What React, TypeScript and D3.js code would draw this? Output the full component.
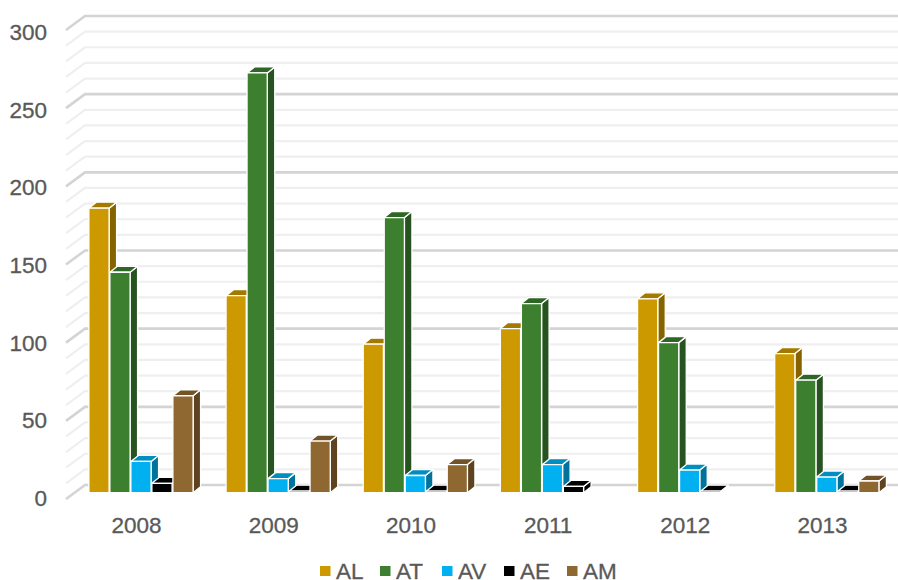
import React from "react";
import * as d3 from "d3";

const years = ["2008", "2009", "2010", "2011", "2012", "2013"];
const seriesNames = ["AL", "AT", "AV", "AE", "AM"];
const alValues = [182, 126, 95, 105, 124, 89];
const atValues = [141, 268.5, 176, 121, 96, 72];
const avValues = [20, 9, 11, 18, 14.5, 10];
const aeValues = [6, 1, 1, 4, 1, 1];
const amValues = [62, 33, 18, 0, 0, 7.5];
const seriesValues = [alValues, atValues, avValues, aeValues, amValues];
const frontColors = ["#cc9900", "#3b7f2f", "#00b0f0", "#000000", "#8f6731"];
const topColors = ["#a37a00", "#2f6626", "#008dc0", "#000000", "#725227"];
const sideColors = ["#856400", "#265320", "#00739c", "#000000", "#5d4320"];
const yTicks = [0, 50, 100, 150, 200, 250, 300];
const minorTicks = d3.range(0, 301, 10);
const legendX = [320, 380, 442, 504, 567];

const WIDTH = 898;
const HEIGHT = 580;
const FONT = "'Liberation Sans', Arial, sans-serif";
const TEXT = "#595959";

// Wall plane sits behind the bars, the front edge of the floor in front of them.
const wallY = d3.scaleLinear().domain([0, 300]).range([485, 16]);
const barY = d3.scaleLinear().domain([0, 300]).range([492.7, 23.7]);
const labelY = d3.scaleLinear().domain([0, 300]).range([506, 40]);
const groupX = d3.scaleBand<string>().domain(years).range([68, 891]);
const barWidth = 20.2;
const barStep = 21;
const depthX = 7.5;
const depthY = -6;
const barShift = 4.8;
const textProps = {
  fontFamily: FONT,
  fontSize: 22.5,
  fill: TEXT,
  stroke: TEXT,
  strokeWidth: 0.3,
};

function Bar({ x, value, s }: { x: number; value: number; s: number }) {
  const y0 = barY(0);
  const y1 = barY(value);
  const x1 = x + barWidth;
  const front = `M${x},${y1}H${x1}V${y0}H${x}Z`;
  const top = `M${x},${y1}L${x + depthX},${y1 + depthY}H${x1 + depthX}L${x1},${y1}Z`;
  const side = `M${x1},${y1}L${x1 + depthX},${y1 + depthY}V${y0 + depthY}L${x1},${y0}Z`;
  const common = { stroke: "#ffffff", strokeWidth: 1.3, strokeLinejoin: "round" as const };
  return (
    <g>
      <path d={side} fill={sideColors[s]} {...common} />
      <path d={top} fill={topColors[s]} {...common} />
      <path d={front} fill={frontColors[s]} {...common} />
    </g>
  );
}

export default function App() {
  return (
    <svg
      width={WIDTH}
      height={HEIGHT}
      viewBox={`0 0 ${WIDTH} ${HEIGHT}`}
      style={{ position: "absolute", left: 0, top: 0, background: "#ffffff" }}
    >
      {/* minor gridlines first so the major ones stay on top */}
      {minorTicks
        .filter((t) => t % 50 !== 0)
        .map((t) => (
          <path
            key={t}
            d={`M66,${wallY(t) + 14}L85,${wallY(t)}H898`}
            fill="none"
            stroke="#efefef"
            strokeWidth={2.2}
          />
        ))}
      {yTicks.map((t) => (
        <path
          key={t}
          d={`M66,${wallY(t) + 14}L85,${wallY(t)}H898`}
          fill="none"
          stroke="#d4d4d4"
          strokeWidth={2.6}
        />
      ))}

      {years.map((year, i) => {
        const start =
          (groupX(year) as number) + (groupX.bandwidth() - barStep * 5) / 2 + barShift;
        return (
          <g key={year}>
            {seriesValues.map((values, s) =>
              values[i] > 0 ? (
                <Bar key={s} x={start + s * barStep} value={values[i]} s={s} />
              ) : null
            )}
          </g>
        );
      })}

      {yTicks.map((t) => (
        <text key={t} x={47} y={labelY(t)} textAnchor="end" {...textProps}>
          {t}
        </text>
      ))}

      {years.map((year) => (
        <text
          key={year}
          x={(groupX(year) as number) + groupX.bandwidth() / 2}
          y={532.5}
          textAnchor="middle"
          {...textProps}
        >
          {year}
        </text>
      ))}

      {seriesNames.map((name, s) => (
        <g key={name}>
          <rect x={legendX[s]} y={566} width={10.5} height={10} fill={frontColors[s]} />
          <text x={legendX[s] + 16} y={578.5} {...textProps}>
            {name}
          </text>
        </g>
      ))}
    </svg>
  );
}
